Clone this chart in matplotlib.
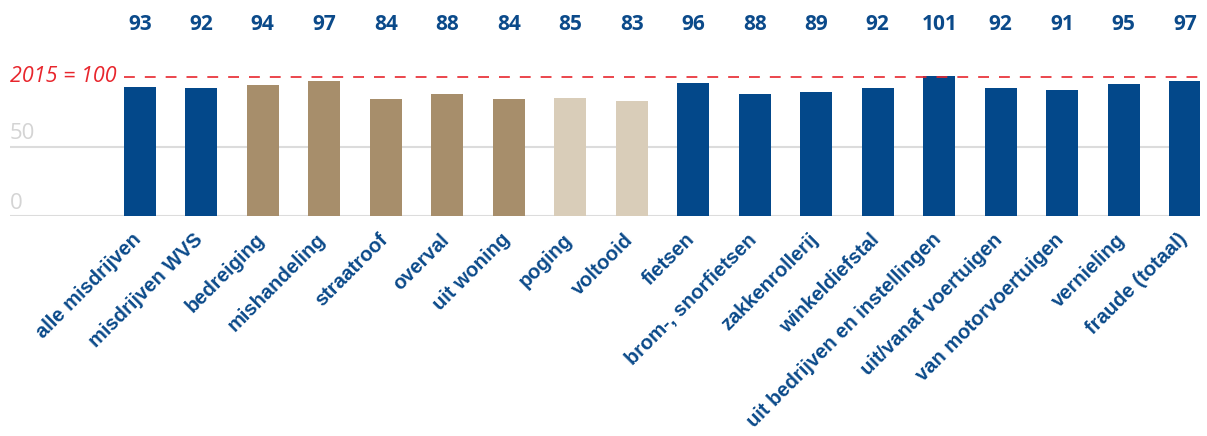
import matplotlib.pyplot as plt
import numpy as np

categories = ["alle misdrijven", "misdrijven WVS", "bedreiging", "mishandeling",
              "straatroof", "overval", "uit woning", "poging", "voltooid",
              "fietsen", "brom-, snorfietsen", "zakkenrollerij", "winkeldiefstal",
              "uit bedrijven en instellingen", "uit/vanaf voertuigen",
              "van motorvoertuigen", "vernieling", "fraude (totaal)"]
values = [93, 92, 94, 97, 84, 88, 84, 85, 83, 96, 88, 89, 92, 101, 92, 91, 95, 97]
groups = ["blue", "blue", "tan", "tan", "tan", "tan", "tan", "light", "light",
          "blue", "blue", "blue", "blue", "blue", "blue", "blue", "blue", "blue"]

colors = {"blue": "#03488a", "tan": "#a78e6b", "light": "#d9cdb9"}
label_blue = "#0b4a8a"

fig = plt.figure(figsize=(12.07, 4.36), dpi=100)
ax = fig.add_axes([10 / 1207, 1 - 216 / 436, 1190 / 1207, 216 / 436])

x = np.arange(len(values))
ax.bar(x, values, width=0.52, color=[colors[g] for g in groups], zorder=2)

ax.set_xlim(-2.11, 17.24)
ax.set_ylim(0, 155.4)

# gridlines
for v in [0, 50]:
    ax.axhline(v, color="#dcdcdc", lw=1.5, zorder=1)
    ax.text(-2.11, v + 1.5, str(v), color="#d4d4d4", fontsize=16,
            family="Open Sans", ha="left", va="bottom")

ax.plot([-0.26, 17.24], [100, 100], color="#e8262d", lw=1.2,
        dashes=(6.5, 6), zorder=3)
ax.text(-2.11, 100.5, "2015 = 100", color="#e8262d", fontsize=15.5,
        family="Open Sans", style="italic", ha="left", va="center")

for xi, v in zip(x, values):
    ax.text(xi, 137.5, str(v), color=label_blue, fontsize=15,
            family="Open Sans", fontweight="bold", ha="center", va="center")

# category labels, rotated
for xi, cat in zip(x, categories):
    ax.annotate(cat, xy=(xi, 0), xytext=(-8, -14), textcoords="offset pixels",
                rotation=45, rotation_mode="anchor", ha="right", va="top",
                fontsize=14.5, family="Liberation Sans", fontweight="bold",
                color=label_blue, annotation_clip=False)

ax.set_xticks([])
ax.set_yticks([])
for s in ax.spines.values():
    s.set_visible(False)

fig.savefig("out.png", dpi=100)
